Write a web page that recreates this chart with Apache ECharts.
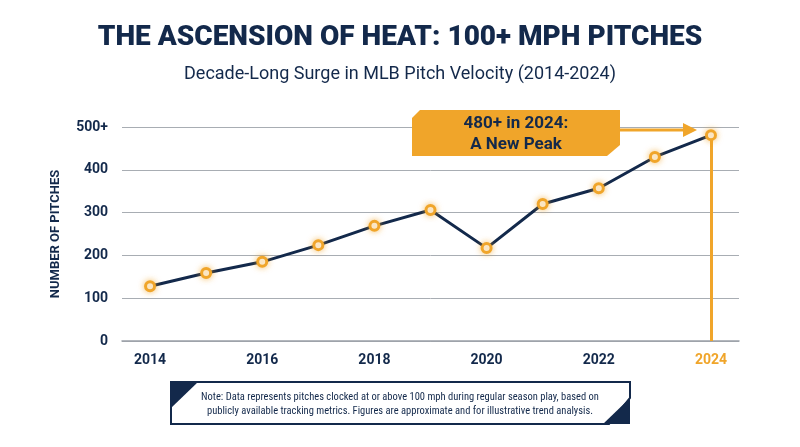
<!DOCTYPE html>
<html>
<head>
<meta charset="utf-8">
<script src="https://cdn.jsdelivr.net/npm/echarts@6/dist/echarts.min.js"></script>
<style>html,body{margin:0;background:#fff}#main{width:800px;height:447px}</style>
</head>
<body>
<div id="main"></div>
<script>
// data
const years = ['2014', '2015', '2016', '2017', '2018', '2019', '2020', '2021', '2022', '2023', '2024'];
const pitches = [128, 159, 185, 224, 269, 306, 217, 320, 357, 430, 481];
const yTicks = ['0', '100', '200', '300', '400', '500+'];

const navy = '#13294b';
const gold = '#f0a52a';
const chart = echarts.init(document.getElementById('main'));

const option = {
  backgroundColor: '#fff',
  title: [{
    text: 'THE ASCENSION OF HEAT: 100+ MPH PITCHES',
    left: 'center', top: 19,
    textStyle: { fontFamily: 'Roboto', fontWeight: 900, fontSize: 28, color: navy }
  }, {
    text: 'Decade-Long Surge in MLB Pitch Velocity (2014-2024)',
    left: 'center', top: 60,
    textStyle: { fontFamily: 'Roboto', fontWeight: 'normal', fontSize: 18, color: navy }
  }],
  grid: { left: 122, right: 61, top: 127, bottom: 106 },
  xAxis: {
    type: 'category', data: years, boundaryGap: true,
    axisLine: { lineStyle: { color: '#9aa0a8', width: 1.5 } },
    axisTick: { show: false },
    axisLabel: {
      interval: 0, margin: 12,
      fontFamily: 'Roboto', fontWeight: 'bold', fontSize: 14, color: navy,
      formatter: v => (Number(v) % 2 === 0 ? (v === '2024' ? '{g|' + v + '}' : v) : ''),
      rich: { g: { color: gold, fontFamily: 'Roboto', fontWeight: 'bold', fontSize: 14 } }
    }
  },
  yAxis: {
    type: 'value', min: 0, max: 500, interval: 100,
    name: 'NUMBER OF PITCHES', nameLocation: 'middle', nameGap: 60,
    nameTextStyle: { fontFamily: 'Roboto', fontWeight: 'bold', fontSize: 13, color: navy },
    axisLine: { show: false }, axisTick: { show: false },
    axisLabel: {
      margin: 14, fontFamily: 'Roboto', fontWeight: 'bold', fontSize: 14, color: navy,
      formatter: v => yTicks[v / 100]
    },
    splitLine: { lineStyle: { color: '#a8adb3', width: 1 } }
  },
  series: [{
    type: 'line', data: pitches,
    lineStyle: { color: navy, width: 3 },
    symbol: 'circle', symbolSize: 9,
    itemStyle: { color: '#fff', borderColor: gold, borderWidth: 3, shadowColor: 'rgba(240,165,42,0.6)', shadowBlur: 6 },
    z: 5,
    markLine: {
      silent: true, symbol: 'none', label: { show: false },
      lineStyle: { color: gold, width: 3, type: 'solid' },
      data: [[{ coord: ['2024', 481] }, { coord: ['2024', 0] }]]
    }
  }],
  graphic: [{
    type: 'polygon', z: 10,
    shape: { points: [[420, 110], [620, 110], [620, 145], [607, 156], [412, 156], [412, 118]] },
    style: { fill: gold }
  }, {
    type: 'text', z: 11,
    style: {
      x: 516, y: 113, text: '480+ in 2024:\nA New Peak', align: 'center',
      fontFamily: 'Roboto', fontWeight: 'bold', fontSize: 17, lineHeight: 21, fill: navy
    }
  }, {
    type: 'line', z: 10,
    shape: { x1: 620, y1: 130, x2: 685, y2: 130 },
    style: { stroke: gold, lineWidth: 3 }
  }, {
    type: 'polygon', z: 10,
    shape: { points: [[683, 123], [697, 130], [683, 137]] },
    style: { fill: gold }
  }, {
    type: 'polygon', z: 10,
    shape: { points: [[171, 382], [630, 382], [630, 398], [609, 424], [171, 424]] },
    style: { fill: '#fff', stroke: navy, lineWidth: 2 }
  }, {
    type: 'polygon', z: 10,
    shape: { points: [[171, 382], [198, 382], [171, 408]] },
    style: { fill: navy }
  }, {
    type: 'polygon', z: 10,
    shape: { points: [[630, 398], [630, 424], [603, 424]] },
    style: { fill: navy }
  }, {
    type: 'text', z: 11,
    style: {
      x: 400, y: 390,
      text: 'Note: Data represents pitches clocked at or above 100 mph during regular season play, based on\npublicly available tracking metrics. Figures are approximate and for illustrative trend analysis.',
      align: 'center', fontFamily: 'Roboto Condensed, Roboto', fontSize: 10.5, lineHeight: 14, fill: navy
    }
  }]
};
chart.setOption(option);
</script>
</body>
</html>
